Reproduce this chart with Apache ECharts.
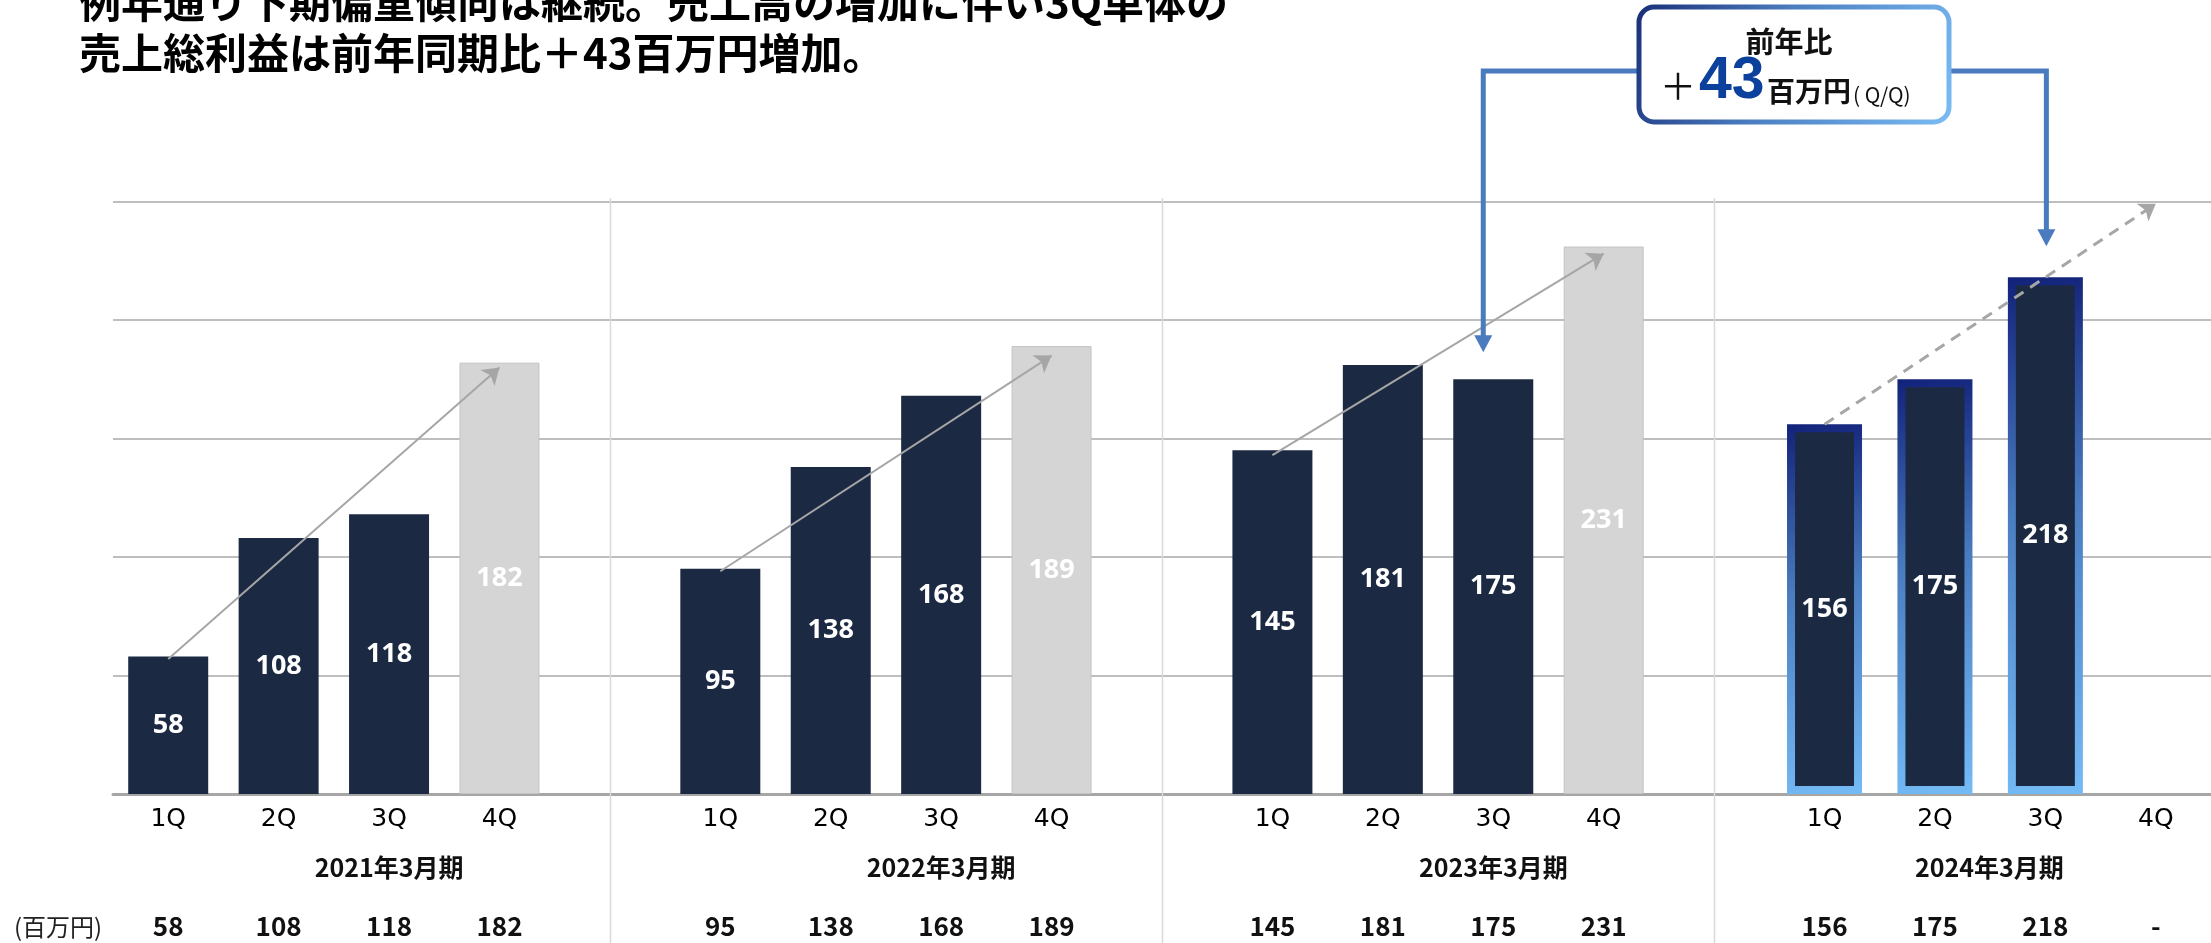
<!DOCTYPE html>
<html><head><meta charset="utf-8">
<script src="https://cdn.jsdelivr.net/npm/echarts@6/dist/echarts.min.js"></script>
<style>html,body{margin:0;padding:0;background:#fff;overflow:hidden}#c{width:2211px;height:943px}</style>
</head><body><div id="c"></div>
<script>
// ---- data ----
const periods = ['2021年3月期', '2022年3月期', '2023年3月期', '2024年3月期'];
const quarters = ['1Q', '2Q', '3Q', '4Q'];
const profit2021 = [58, 108, 118, 182];
const profit2022 = [95, 138, 168, 189];
const profit2023 = [145, 181, 175, 231];
const profit2024 = [156, 175, 218, null];
const yTicks = [0, 50, 100, 150, 200, 250];
const trendStart = [57, 94, 143, 156];
const trendEnd = [180, 185, 228, 249];
const yoyDiff = 43;
const unitLabel = '(百万円)';
const titleLines = ['例年通り下期偏重傾向は継続。売上高の増加に伴い3Q単体の', '売上総利益は前年同期比＋43百万円増加。'];

// ---- build slots ----
const allValues = [profit2021, profit2022, profit2023, profit2024];
const xCats = [], yearCats = [], valueCats = [], seriesA = [], seriesB = [];
const NAVY = '#1b2a42', GRAY = '#d5d5d5';
allValues.forEach((vals, p) => {
  quarters.forEach((q, i) => {
    xCats.push(q);
    yearCats.push(i === 2 ? (p === 3 ? { value: periods[p], textStyle: { padding: [0, 112, 0, 0] } } : periods[p]) : '');
    valueCats.push(vals[i] == null ? '-' : String(vals[i]));
    if (p < 3) {
      seriesA.push({ value: vals[i], itemStyle: i === 3 ? { color: GRAY, borderColor: '#c4c4c4', borderWidth: 1 } : { color: NAVY } });
      seriesB.push('-');
    } else {
      seriesA.push('-');
      seriesB.push(vals[i] == null ? '-' : vals[i]);
    }
  });
  if (p < 3) { xCats.push(''); yearCats.push(''); valueCats.push(''); seriesA.push('-'); seriesB.push('-'); }
});
const slotIdx = (p, q) => p * 5 + q;
const gapIdx = [4, 9, 14];

const JP = '"Noto Sans CJK JP", "Noto Sans", sans-serif';
const NUM = '"Open Sans", Lato, "Noto Sans", sans-serif';
const QF = '"DejaVu Sans", "Noto Sans", sans-serif';

const trendLines = allValues.map((vals, p) => {
  const dashed = p === 3;
  return [
    { coord: [slotIdx(p, 0), trendStart[p]], lineStyle: { color: '#a6a6a6', width: dashed ? 3 : 2, type: dashed ? [11, 8] : 'solid' } },
    { coord: [slotIdx(p, 3), trendEnd[p]] }
  ];
});

const chart = echarts.init(document.getElementById('c'), null, { renderer: 'canvas' });
const baseAxis = {
  type: 'category', gridIndex: 0, position: 'bottom', boundaryGap: true,
  axisTick: { show: false }, splitLine: { show: false }
};
const barLabel = { show: true, position: 'inside', color: '#fff', fontSize: 27, fontWeight: 700, fontFamily: NUM };
chart.setOption({
  animation: false,
  grid: { left: 113, right: 0, top: 201.5, bottom: 149, containLabel: false },
  xAxis: [
    Object.assign({}, baseAxis, {
      data: xCats,
      axisLine: { show: true, lineStyle: { color: '#a6a6a6', width: 3 } },
      axisLabel: { interval: 0, margin: 13, fontSize: 25, fontFamily: QF, fontWeight: 'normal', color: '#000' }
    }),
    Object.assign({}, baseAxis, {
      data: yearCats, axisLine: { show: false },
      axisLabel: { interval: 0, margin: 61, fontSize: 25, fontFamily: JP, fontWeight: 'bold', color: '#111' }
    }),
    Object.assign({}, baseAxis, {
      data: valueCats, axisLine: { show: false },
      axisLabel: { interval: 0, margin: 119, fontSize: 26, fontFamily: JP, fontWeight: 'bold', color: '#111' }
    }),
    Object.assign({}, baseAxis, { data: xCats, show: false })
  ],
  yAxis: {
    type: 'value', min: yTicks[0], max: yTicks[yTicks.length - 1], interval: yTicks[1] - yTicks[0],
    axisLabel: { show: false }, axisLine: { show: false }, axisTick: { show: false },
    splitLine: { lineStyle: { color: '#a9a9a9', width: 1.5 } }
  },
  series: [
    {
      type: 'bar', xAxisIndex: 0, data: seriesA, barWidth: 80, z: 2,
      label: barLabel,
      markLine: {
        silent: true, symbol: ['none', 'arrow'], symbolSize: 16,
        label: { show: false }, lineStyle: { color: '#a6a6a6', width: 2, type: 'solid' },
        data: trendLines, z: 5
      }
    },
    {
      type: 'bar', xAxisIndex: 3, data: seriesB, barWidth: 75, z: 3,
      itemStyle: {
        color: NAVY, borderWidth: 8,
        borderColor: new echarts.graphic.LinearGradient(0, 0, 1, 1, [
          { offset: 0, color: '#12227a' }, { offset: 0.45, color: '#4a7dc0' }, { offset: 1, color: '#74bbf6' }
        ])
      },
      label: barLabel
    }
  ]
});

// ---- annotations ----
const px = i => chart.convertToPixel({ xAxisIndex: 0 }, i);
const py = v => chart.convertToPixel({ yAxisIndex: 0 }, v);
const graphics = [];
gapIdx.forEach(g => {
  const x = Math.round(px(g)) + 0.5;
  graphics.push({ type: 'line', z: 1, silent: true, shape: { x1: x, y1: 198, x2: x, y2: 943 }, style: { stroke: '#d9d9d9', lineWidth: 1.5 } });
});
graphics.push({ type: 'text', z: 10, style: { text: unitLabel, x: 14, y: 927, font: '24px ' + JP, fill: '#222', textAlign: 'left', align: 'left', textVerticalAlign: 'middle', verticalAlign: 'middle' } });
graphics.push({ type: 'text', z: 10, style: { text: titleLines.join('\n'), x: 79, y: -23, font: 'bold 42px ' + JP, fill: '#000', lineHeight: 51, textAlign: 'left', align: 'left', textVerticalAlign: 'top', verticalAlign: 'top' } });

// connectors
const CONN = '#4a7bbf';
const xL = px(slotIdx(2, 2)) - 10, tipL = py(profit2023[2]) - 27;
const xR = px(slotIdx(3, 2)) + 1, tipR = py(profit2024[2]) - 31;
const lineY = 71, boxL = 1639, boxR = 1949;
graphics.push({ type: 'polyline', z: 8, shape: { points: [[boxL, lineY], [xL, lineY], [xL, tipL - 14]] }, style: { stroke: CONN, lineWidth: 5, fill: null } });
graphics.push({ type: 'polygon', z: 8, shape: { points: [[xL - 9, tipL - 17], [xL + 9, tipL - 17], [xL, tipL]] }, style: { fill: CONN } });
graphics.push({ type: 'polyline', z: 8, shape: { points: [[boxR, lineY], [xR, lineY], [xR, tipR - 14]] }, style: { stroke: CONN, lineWidth: 5, fill: null } });
graphics.push({ type: 'polygon', z: 8, shape: { points: [[xR - 9, tipR - 17], [xR + 9, tipR - 17], [xR, tipR]] }, style: { fill: CONN } });
// callout box
graphics.push({ type: 'rect', z: 9, shape: { x: boxL, y: 7, width: boxR - boxL, height: 115, r: 15 },
  style: { fill: '#fff', lineWidth: 5, stroke: new echarts.graphic.LinearGradient(0, 0, 1, 1, [
    { offset: 0, color: '#1a2f78' }, { offset: 0.45, color: '#4c7fc2' }, { offset: 1, color: '#7abcf3' }]) } });
const t = (text, x, y, font, fill, align) => ({ type: 'text', z: 11, style: { text, x, y, font, fill, textAlign: align, align, textVerticalAlign: 'middle', verticalAlign: 'middle' } });
graphics.push(t('前年比', 1789, 42, 'bold 29px ' + JP, '#111', 'center'));
graphics.push(t('＋', 1678, 86, '36px ' + JP, '#111', 'center'));
graphics.push(t(String(yoyDiff), 1699, 82, 'bold 59px "Liberation Sans", Arial, sans-serif', '#0b409c', 'left'));
graphics.push(t('百万円', 1767, 91, 'bold 28px ' + JP, '#111', 'left'));
graphics.push(t('( Q/Q)', 1853, 95, '21px ' + JP, '#111', 'left'));

chart.setOption({ graphic: graphics });
</script>
</body></html>
